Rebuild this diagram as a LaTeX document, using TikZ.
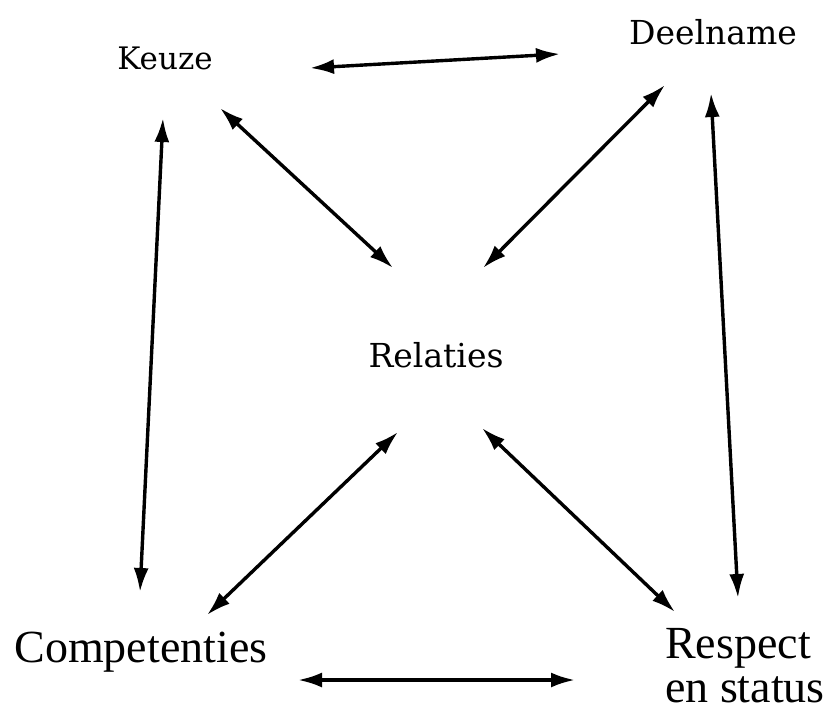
\documentclass[tikz,border=0pt]{standalone}
\usepackage{fontspec}
\setmainfont{Liberation Serif}
\newfontfamily\dvs{DejaVu Serif}
\usetikzlibrary{arrows.meta,calc}
\begin{document}
\begin{tikzpicture}[x=1pt,y=-1pt,
  arr/.style={line width=3.4pt,{Latex[length=24pt,width=15pt]}-{Latex[length=24pt,width=15pt]}},
  small/.style={font=\dvs\fontsize{31}{34}\selectfont,inner sep=0pt},
  mid/.style={font=\dvs\fontsize{33}{37}\selectfont,inner sep=0pt},
  big/.style={font=\fontsize{46}{44}\selectfont,inner sep=0pt}]
\useasboundingbox (0,0) rectangle (827,715);
\node[small] (keuze) at (165,58) {Keuze};
\node[mid] (deel) at (713,32) {Deelname};
\node[mid] (rel) at (436,355) {Relaties};
\node[big] (comp) at (141,652) {Competenties};
\node[big,align=left] (resp) at (745,666) {Respect\\en status};
\draw[arr] ($(keuze)+(145,10)$) -- ($(deel)+(-153,22)$);
\draw[arr] ($(keuze)+(-2,60)$) -- ($(comp)+(-1,-60)$);
\draw[arr] ($(keuze)+(55,50)$) -- ($(rel)+(-43,-87)$);
\draw[arr] ($(deel)+(-48,53)$) -- ($(rel)+(47,-87)$);
\draw[arr] ($(deel)+(-2,61)$) -- ($(resp)+(-7,-68)$);
\draw[arr] ($(rel)+(-38,77)$) -- ($(comp)+(66,-37)$);
\draw[arr] ($(rel)+(46,73)$) -- ($(resp)+(-70,-54)$);
\draw[arr] ($(comp)+(157,28)$) -- ($(resp)+(-170,14)$);
\end{tikzpicture}
\end{document}
